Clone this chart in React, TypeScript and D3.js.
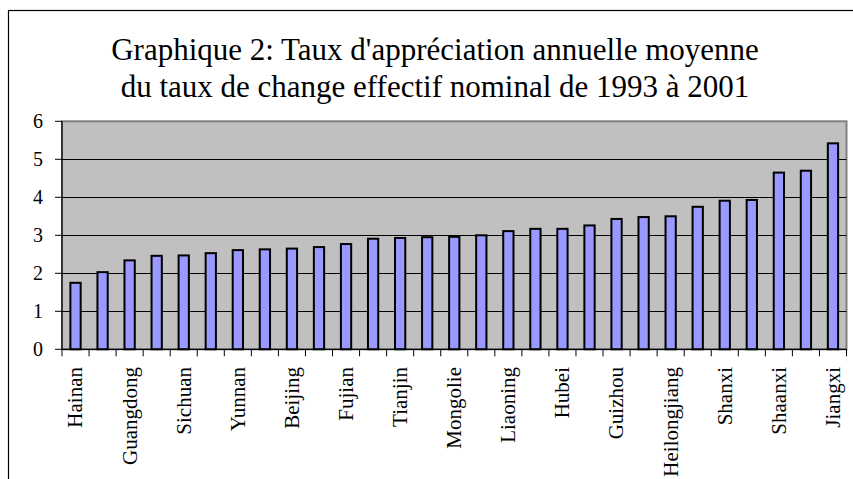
import React, { useEffect, useRef } from 'react';
import * as d3 from 'd3';

// provinces, sorted by appreciation rate (only every other one is labelled on the axis)
const provinces = [
  'Hainan', 'Shanghai', 'Guangdong', 'Zhejiang', 'Sichuan', 'Guangxi', 'Yunnan', 'Jiangsu',
  'Beijing', 'Shandong', 'Fujian', 'Hebei', 'Tianjin', 'Anhui', 'Mongolie', 'Henan',
  'Liaoning', 'Jilin', 'Hubei', 'Hunan', 'Guizhou', 'Gansu', 'Heilongjiang', 'Xinjiang',
  'Shanxi', 'Ningxia', 'Shaanxi', 'Qinghai', 'Jiangxi',
];

const rates = [
  1.75, 2.03, 2.34, 2.46, 2.47, 2.53, 2.61, 2.63,
  2.65, 2.69, 2.77, 2.91, 2.93, 2.95, 2.96, 3.0,
  3.11, 3.17, 3.17, 3.26, 3.43, 3.48, 3.5, 3.75,
  3.91, 3.93, 4.65, 4.7, 5.42,
];

const yTicks = [0, 1, 2, 3, 4, 5, 6];

const titleLines = [
  "Graphique 2: Taux d'appréciation annuelle moyenne",
  'du taux de change effectif nominal de 1993 à 2001',
];

const FONT = '"Liberation Serif", "Times New Roman", serif';

const App: React.FC = () => {
  const ref = useRef(null);
  const W = 853, H = 479;

  useEffect(() => {
    if (!ref.current) return;
    const svg = d3.select(ref.current);
    svg.selectAll('*').remove();

    const plot = { left: 62, right: 846.5, top: 121.3, bottom: 349.3 };

    // outer frame
    svg.append('rect')
      .attr('x', 8.5).attr('y', 10.5)
      .attr('width', 860).attr('height', 500)
      .attr('fill', 'white').attr('stroke', 'black').attr('stroke-width', 1.2);

    // title
    svg.append('g').selectAll('text')
      .data(titleLines)
      .enter().append('text')
      .attr('x', 435)
      .attr('y', (d, i) => 60 + i * 37)
      .attr('text-anchor', 'middle')
      .style('font-family', FONT)
      .style('font-size', '31px')
      .attr('fill', 'black')
      .text(d => d);

    const x = d3.scaleBand()
      .domain(provinces)
      .range([plot.left, plot.right])
      .paddingInner(0.62)
      .paddingOuter(0.31);

    const y = d3.scaleLinear()
      .domain([0, 6])
      .range([plot.bottom, plot.top]);

    // plot background
    svg.append('rect')
      .attr('x', plot.left).attr('y', plot.top)
      .attr('width', plot.right - plot.left)
      .attr('height', plot.bottom - plot.top)
      .attr('fill', '#c0c0c0')
      .attr('stroke', '#808080')
      .attr('stroke-width', 2);

    // gridlines
    svg.append('g').selectAll('line')
      .data(yTicks.filter(t => t > 0 && t < 6))
      .enter().append('line')
      .attr('x1', plot.left).attr('x2', plot.right)
      .attr('y1', d => Math.round(y(d)) + 0.5)
      .attr('y2', d => Math.round(y(d)) + 0.5)
      .attr('stroke', 'black')
      .attr('stroke-width', 1);

    // bars
    svg.append('g').selectAll('rect')
      .data(rates)
      .enter().append('rect')
      .attr('x', (d, i) => x(provinces[i]) as number)
      .attr('width', x.bandwidth())
      .attr('y', d => y(d))
      .attr('height', d => plot.bottom - y(d))
      .attr('fill', '#9999ff')
      .attr('stroke', 'black')
      .attr('stroke-width', 2);

    // y axis
    const yAxis = svg.append('g');
    yAxis.append('line')
      .attr('x1', plot.left).attr('x2', plot.left)
      .attr('y1', plot.top).attr('y2', plot.bottom)
      .attr('stroke', 'black').attr('stroke-width', 1.2);
    yAxis.selectAll('line.tick')
      .data(yTicks)
      .enter().append('line')
      .attr('class', 'tick')
      .attr('x1', plot.left - 7).attr('x2', plot.left)
      .attr('y1', d => y(d)).attr('y2', d => y(d))
      .attr('stroke', 'black').attr('stroke-width', 1);
    yAxis.selectAll('text')
      .data(yTicks)
      .enter().append('text')
      .attr('x', 43)
      .attr('y', d => y(d))
      .attr('dy', '0.34em')
      .attr('text-anchor', 'end')
      .style('font-family', FONT)
      .style('font-size', '20px')
      .text(d => d);

    // x axis
    const step = x.step();
    const x0 = plot.left;
    const xAxis = svg.append('g');
    xAxis.append('line')
      .attr('x1', plot.left).attr('x2', plot.right)
      .attr('y1', plot.bottom).attr('y2', plot.bottom)
      .attr('stroke', 'black').attr('stroke-width', 1.2);
    xAxis.selectAll('line.tick')
      .data(d3.range(provinces.length + 1))
      .enter().append('line')
      .attr('class', 'tick')
      .attr('x1', i => x0 + i * step).attr('x2', i => x0 + i * step)
      .attr('y1', plot.bottom).attr('y2', plot.bottom + 7)
      .attr('stroke', 'black').attr('stroke-width', 1);
    xAxis.selectAll('text')
      .data(provinces.filter((p, i) => i % 2 === 0))
      .enter().append('text')
      .attr('transform', d => `translate(${(x(d) as number) + x.bandwidth() / 2}, 367) rotate(-90)`)
      .attr('dy', '0.33em')
      .attr('text-anchor', 'end')
      .style('font-family', FONT)
      .style('font-size', '21px')
      .text(d => d);
  }, []);

  return (
    <svg ref={ref} width={W} height={H}
      style={{ position: 'absolute', left: 0, top: 0, background: 'white' }} />
  );
};

export default App;
